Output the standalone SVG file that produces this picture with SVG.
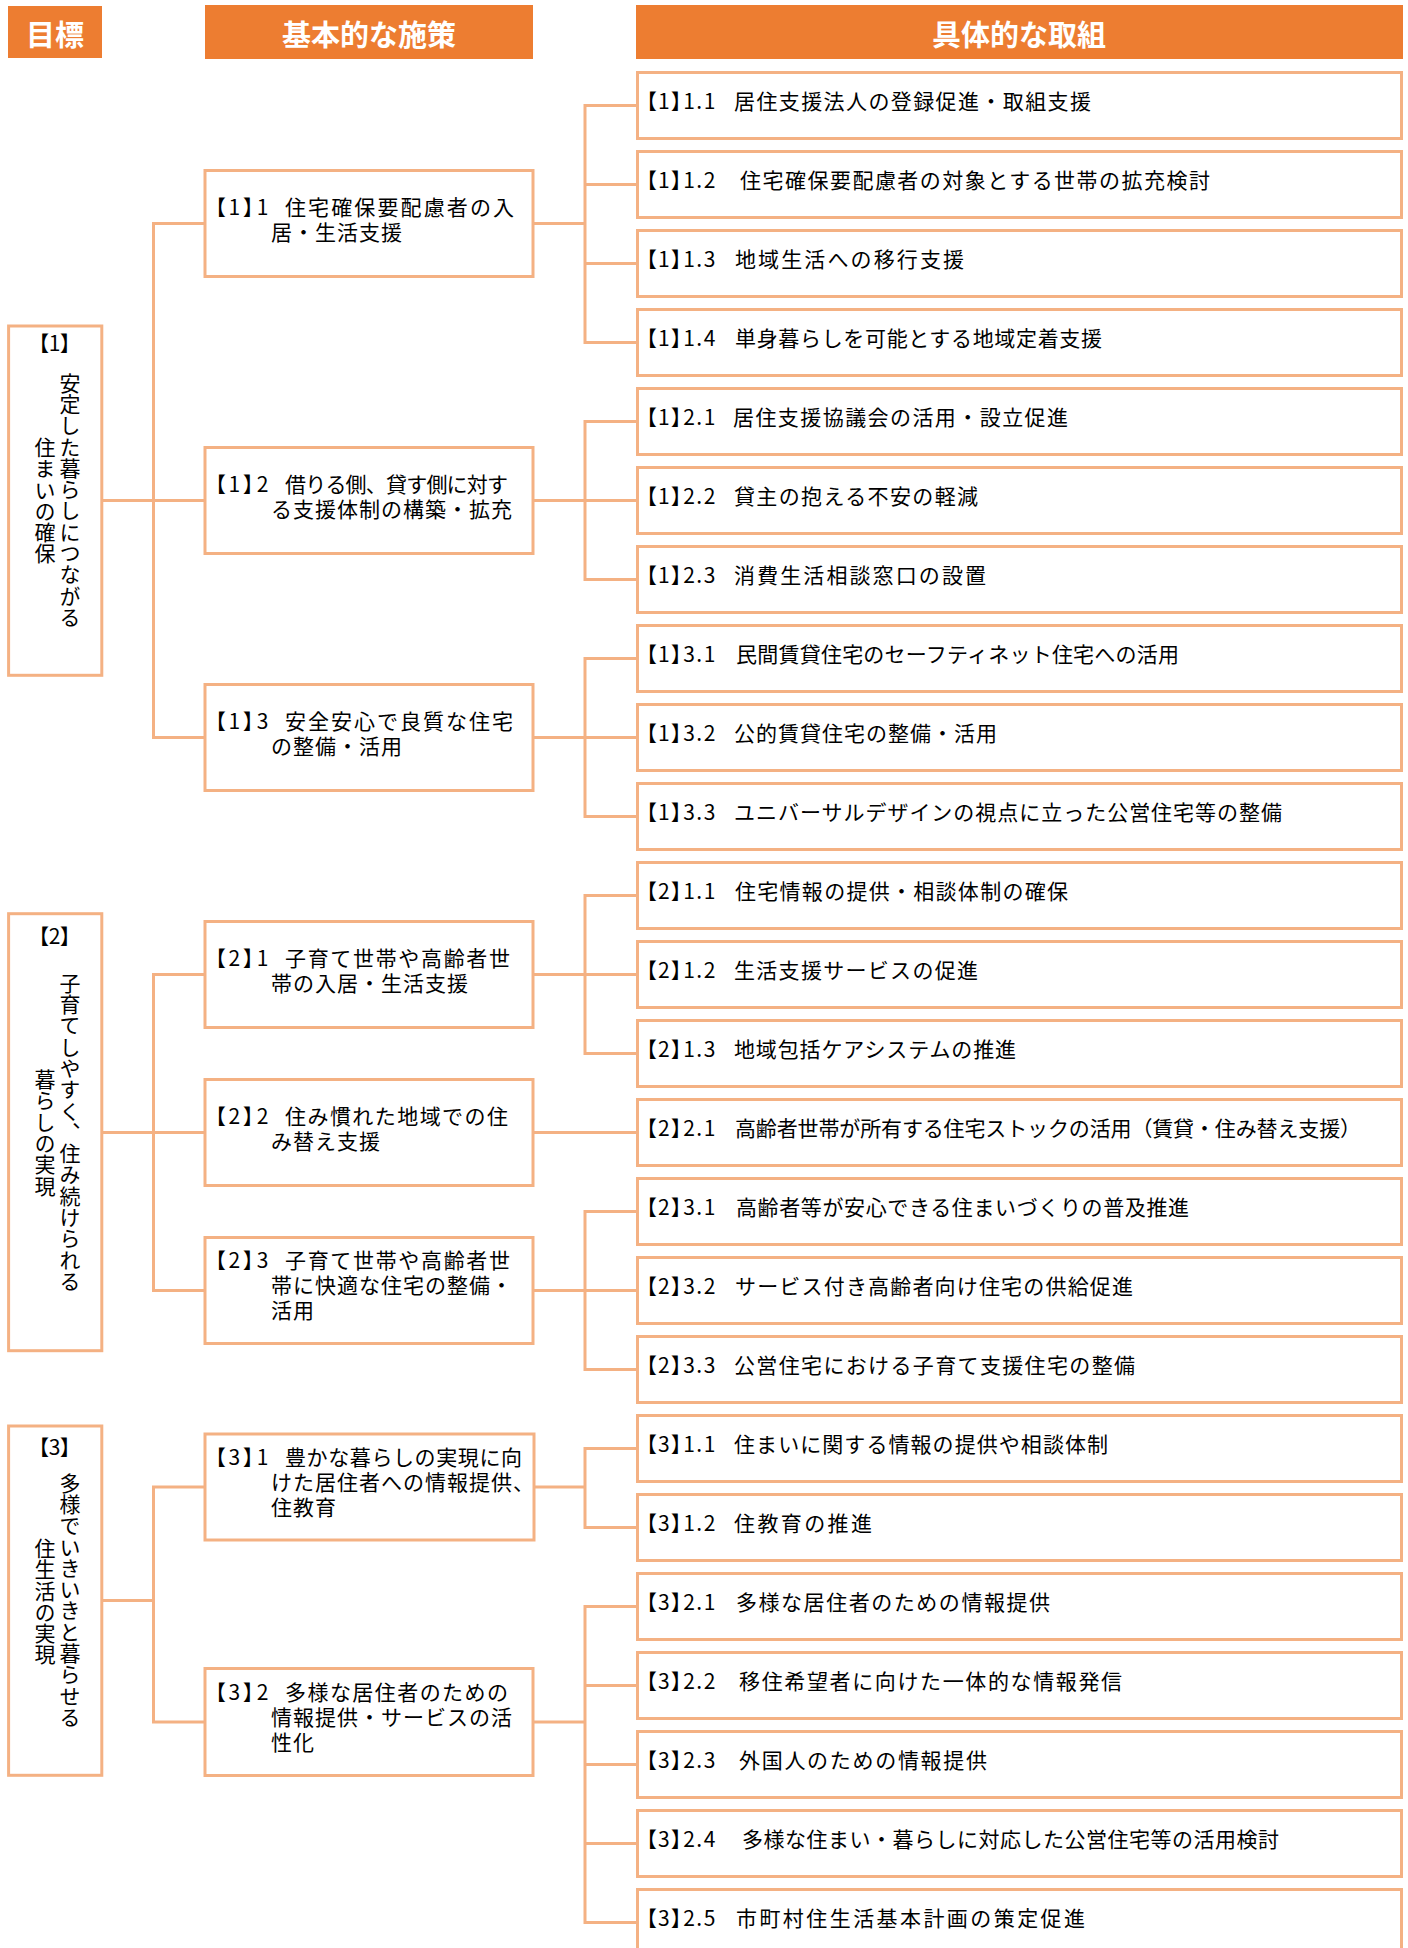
<svg xmlns="http://www.w3.org/2000/svg" width="1408" height="1948" viewBox="0 0 1408 1948">
<style>
text{font-family:"Noto Sans CJK JP","Noto Sans",sans-serif;fill:#000;font-size:21px}
.hdr{fill:#ED7D31}
.ht{fill:#fff;font-weight:700;font-size:29px;text-anchor:middle}
.box{fill:#fff;stroke:#F4B183;stroke-width:3}
.ln{stroke:#F4B183;stroke-width:3;fill:none;stroke-linecap:square}
.ls{letter-spacing:1px}
.v{writing-mode:vertical-rl;text-anchor:middle;letter-spacing:0.3px}
.c{text-anchor:middle;font-feature-settings:"palt"}
.nm{font-feature-settings:"palt";letter-spacing:3px}
.nr{font-feature-settings:"palt";letter-spacing:1.5px}
</style>
<rect width="1408" height="1948" fill="#fff"/>

<g id="headers">
<g id="h-goal"><rect class="hdr" x="8" y="6" width="94" height="52"/><text class="ht" x="55" y="46">目標</text></g>
<g id="h-policy"><rect class="hdr" x="205" y="5" width="328" height="54"/><text class="ht" x="369" y="46">基本的な施策</text></g>
<g id="h-action"><rect class="hdr" x="636" y="5" width="767" height="54"/><text class="ht" x="1019" y="46">具体的な取組</text></g>
</g>

<g id="connectors">
<path class="ln" d="M102 500.5H153.5M153.5 223.5V737.5M153.5 223.5H205M153.5 500.5H205M153.5 737.5H205"/>
<path class="ln" d="M102 1132.5H153.5M153.5 974.5V1290.5M153.5 974.5H205M153.5 1132.5H205M153.5 1290.5H205"/>
<path class="ln" d="M102 1600.5H153.5M153.5 1487V1722M153.5 1487H205M153.5 1722H205"/>
<path class="ln" d="M533 223.5H585M585 105.5V342.5M585 105.5H637M585 184.5H637M585 263.5H637M585 342.5H637"/>
<path class="ln" d="M533 500.5H585M585 421.5V579.5M585 421.5H637M585 500.5H637M585 579.5H637"/>
<path class="ln" d="M533 737.5H585M585 658.5V816.5M585 658.5H637M585 737.5H637M585 816.5H637"/>
<path class="ln" d="M533 974.5H585M585 895.5V1053.5M585 895.5H637M585 974.5H637M585 1053.5H637"/>
<path class="ln" d="M533 1132.5H637"/>
<path class="ln" d="M533 1290.5H585M585 1211.5V1369.5M585 1211.5H637M585 1290.5H637M585 1369.5H637"/>
<path class="ln" d="M533 1487H585M585 1448.5V1527.5M585 1448.5H637M585 1527.5H637"/>
<path class="ln" d="M533 1722H585M585 1606.5V1922.5M585 1606.5H637M585 1685.5H637M585 1764.5H637M585 1843.5H637M585 1922.5H637"/>
</g>

<g id="goals">
<g id="goal-1"><rect class="box" x="8.6" y="326" width="93.2" height="349.3"/>
<text class="c" x="54.5" y="351">【1】</text>
<text class="v"><tspan x="70" y="500">安定した暮らしにつながる</tspan><tspan x="45" y="500">住まいの確保</tspan></text></g>
<g id="goal-2"><rect class="box" x="8.6" y="913.7" width="93.2" height="437"/>
<text class="c" x="54.5" y="944">【2】</text>
<text class="v"><tspan x="70" y="1132">子育てしやすく、住み続けられる</tspan><tspan x="45" y="1132">暮らしの実現</tspan></text></g>
<g id="goal-3"><rect class="box" x="8.6" y="1426" width="93.2" height="349.3"/>
<text class="c" x="54.5" y="1455">【3】</text>
<text class="v"><tspan x="70" y="1600">多様でいきいきと暮らせる</tspan><tspan x="45" y="1601">住生活の実現</tspan></text></g>
</g>

<g id="policies">
<g id="p-1-1"><rect class="box" x="205" y="170.5" width="328" height="106"/>
<text><tspan class="nm" x="215" y="214.5">【1】1</tspan><tspan x="285" y="214.5" textLength="229">住宅確保要配慮者の入</tspan><tspan class="ls" x="271" y="239.5">居・生活支援</tspan></text></g>
<g id="p-1-2"><rect class="box" x="205" y="447.5" width="328" height="106"/>
<text><tspan class="nm" x="215" y="491.5">【1】2</tspan><tspan x="285" y="491.5" textLength="223">借りる側、貸す側に対す</tspan><tspan class="ls" x="271" y="516.5">る支援体制の構築・拡充</tspan></text></g>
<g id="p-1-3"><rect class="box" x="205" y="684.5" width="328" height="106"/>
<text><tspan class="nm" x="215" y="728.5">【1】3</tspan><tspan x="285" y="728.5" textLength="228">安全安心で良質な住宅</tspan><tspan class="ls" x="271" y="753.5">の整備・活用</tspan></text></g>
<g id="p-2-1"><rect class="box" x="205" y="921.5" width="328" height="106"/>
<text><tspan class="nm" x="215" y="965.5">【2】1</tspan><tspan x="285" y="965.5" textLength="225">子育て世帯や高齢者世</tspan><tspan class="ls" x="271" y="990.5">帯の入居・生活支援</tspan></text></g>
<g id="p-2-2"><rect class="box" x="205" y="1079.5" width="328" height="106"/>
<text><tspan class="nm" x="215" y="1123.5">【2】2</tspan><tspan x="285" y="1123.5" textLength="223">住み慣れた地域での住</tspan><tspan class="ls" x="271" y="1148.5">み替え支援</tspan></text></g>
<g id="p-2-3"><rect class="box" x="205" y="1237.5" width="328" height="106"/>
<text><tspan class="nm" x="215" y="1268">【2】3</tspan><tspan x="285" y="1268" textLength="225">子育て世帯や高齢者世</tspan><tspan class="ls" x="271" y="1293">帯に快適な住宅の整備・</tspan><tspan class="ls" x="271" y="1318">活用</tspan></text></g>
<g id="p-3-1"><rect class="box" x="205" y="1434" width="329" height="106"/>
<text><tspan class="nm" x="215" y="1464.5">【3】1</tspan><tspan x="285" y="1464.5" textLength="237">豊かな暮らしの実現に向</tspan><tspan class="ls" x="271" y="1489.5">けた居住者への情報提供、</tspan><tspan class="ls" x="271" y="1514.5">住教育</tspan></text></g>
<g id="p-3-2"><rect class="box" x="205" y="1668.5" width="328" height="107"/>
<text><tspan class="nm" x="215" y="1699.5">【3】2</tspan><tspan x="285" y="1699.5" textLength="223">多様な居住者のための</tspan><tspan class="ls" x="271" y="1724.5">情報提供・サービスの活</tspan><tspan class="ls" x="271" y="1749.5">性化</tspan></text></g>
</g>

<g id="actions">
<g id="a-1-1-1"><rect class="box" x="637.5" y="72.5" width="764" height="66"/><text class="nr" x="646" y="108.5">【1】1.1</text><text x="734" y="108.5" textLength="357">居住支援法人の登録促進・取組支援</text></g>
<g id="a-1-1-2"><rect class="box" x="637.5" y="151.5" width="764" height="66"/><text class="nr" x="646" y="187.5">【1】1.2</text><text x="740" y="187.5" textLength="470">住宅確保要配慮者の対象とする世帯の拡充検討</text></g>
<g id="a-1-1-3"><rect class="box" x="637.5" y="230.5" width="764" height="66"/><text class="nr" x="646" y="266.5">【1】1.3</text><text x="735" y="266.5" textLength="229">地域生活への移行支援</text></g>
<g id="a-1-1-4"><rect class="box" x="637.5" y="309.5" width="764" height="66"/><text class="nr" x="646" y="345.5">【1】1.4</text><text x="735" y="345.5" textLength="367">単身暮らしを可能とする地域定着支援</text></g>
<g id="a-1-2-1"><rect class="box" x="637.5" y="388.5" width="764" height="66"/><text class="nr" x="646" y="424.5">【1】2.1</text><text x="733" y="424.5" textLength="335">居住支援協議会の活用・設立促進</text></g>
<g id="a-1-2-2"><rect class="box" x="637.5" y="467.5" width="764" height="66"/><text class="nr" x="646" y="503.5">【1】2.2</text><text x="734" y="503.5" textLength="244">貸主の抱える不安の軽減</text></g>
<g id="a-1-2-3"><rect class="box" x="637.5" y="546.5" width="764" height="66"/><text class="nr" x="646" y="582.5">【1】2.3</text><text x="734" y="582.5" textLength="252">消費生活相談窓口の設置</text></g>
<g id="a-1-3-1"><rect class="box" x="637.5" y="625.5" width="764" height="66"/><text class="nr" x="646" y="661.5">【1】3.1</text><text x="736" y="661.5" textLength="443">民間賃貸住宅のセーフティネット住宅への活用</text></g>
<g id="a-1-3-2"><rect class="box" x="637.5" y="704.5" width="764" height="66"/><text class="nr" x="646" y="740.5">【1】3.2</text><text x="734" y="740.5" textLength="263">公的賃貸住宅の整備・活用</text></g>
<g id="a-1-3-3"><rect class="box" x="637.5" y="783.5" width="764" height="66"/><text class="nr" x="646" y="819.5">【1】3.3</text><text x="734" y="819.5" textLength="548">ユニバーサルデザインの視点に立った公営住宅等の整備</text></g>
<g id="a-2-1-1"><rect class="box" x="637.5" y="862.5" width="764" height="66"/><text class="nr" x="646" y="898.5">【2】1.1</text><text x="735" y="898.5" textLength="333">住宅情報の提供・相談体制の確保</text></g>
<g id="a-2-1-2"><rect class="box" x="637.5" y="941.5" width="764" height="66"/><text class="nr" x="646" y="977.5">【2】1.2</text><text x="734" y="977.5" textLength="244">生活支援サービスの促進</text></g>
<g id="a-2-1-3"><rect class="box" x="637.5" y="1020.5" width="764" height="66"/><text class="nr" x="646" y="1056.5">【2】1.3</text><text x="734" y="1056.5" textLength="282">地域包括ケアシステムの推進</text></g>
<g id="a-2-2-1"><rect class="box" x="637.5" y="1099.5" width="764" height="66"/><text class="nr" x="646" y="1135.5">【2】2.1</text><text x="735" y="1135.5" textLength="626">高齢者世帯が所有する住宅ストックの活用（賃貸・住み替え支援）</text></g>
<g id="a-2-3-1"><rect class="box" x="637.5" y="1178.5" width="764" height="66"/><text class="nr" x="646" y="1214.5">【2】3.1</text><text x="736" y="1214.5" textLength="453">高齢者等が安心できる住まいづくりの普及推進</text></g>
<g id="a-2-3-2"><rect class="box" x="637.5" y="1257.5" width="764" height="66"/><text class="nr" x="646" y="1293.5">【2】3.2</text><text x="735" y="1293.5" textLength="398">サービス付き高齢者向け住宅の供給促進</text></g>
<g id="a-2-3-3"><rect class="box" x="637.5" y="1336.5" width="764" height="66"/><text class="nr" x="646" y="1372.5">【2】3.3</text><text x="734" y="1372.5" textLength="401">公営住宅における子育て支援住宅の整備</text></g>
<g id="a-3-1-1"><rect class="box" x="637.5" y="1415.5" width="764" height="66"/><text class="nr" x="646" y="1451.5">【3】1.1</text><text x="734" y="1451.5" textLength="374">住まいに関する情報の提供や相談体制</text></g>
<g id="a-3-1-2"><rect class="box" x="637.5" y="1494.5" width="764" height="66"/><text class="nr" x="646" y="1530.5">【3】1.2</text><text x="734" y="1530.5" textLength="138">住教育の推進</text></g>
<g id="a-3-2-1"><rect class="box" x="637.5" y="1573.5" width="764" height="66"/><text class="nr" x="646" y="1609.5">【3】2.1</text><text x="736" y="1609.5" textLength="314">多様な居住者のための情報提供</text></g>
<g id="a-3-2-2"><rect class="box" x="637.5" y="1652.5" width="764" height="66"/><text class="nr" x="646" y="1688.5">【3】2.2</text><text x="739" y="1688.5" textLength="383">移住希望者に向けた一体的な情報発信</text></g>
<g id="a-3-2-3"><rect class="box" x="637.5" y="1731.5" width="764" height="66"/><text class="nr" x="646" y="1767.5">【3】2.3</text><text x="739" y="1767.5" textLength="248">外国人のための情報提供</text></g>
<g id="a-3-2-4"><rect class="box" x="637.5" y="1810.5" width="764" height="66"/><text class="nr" x="646" y="1846.5">【3】2.4</text><text x="742" y="1846.5" textLength="537">多様な住まい・暮らしに対応した公営住宅等の活用検討</text></g>
<g id="a-3-2-5"><rect class="box" x="637.5" y="1889.5" width="764" height="66"/><text class="nr" x="646" y="1925.5">【3】2.5</text><text x="736" y="1925.5" textLength="349">市町村住生活基本計画の策定促進</text></g>
</g>
</svg>
